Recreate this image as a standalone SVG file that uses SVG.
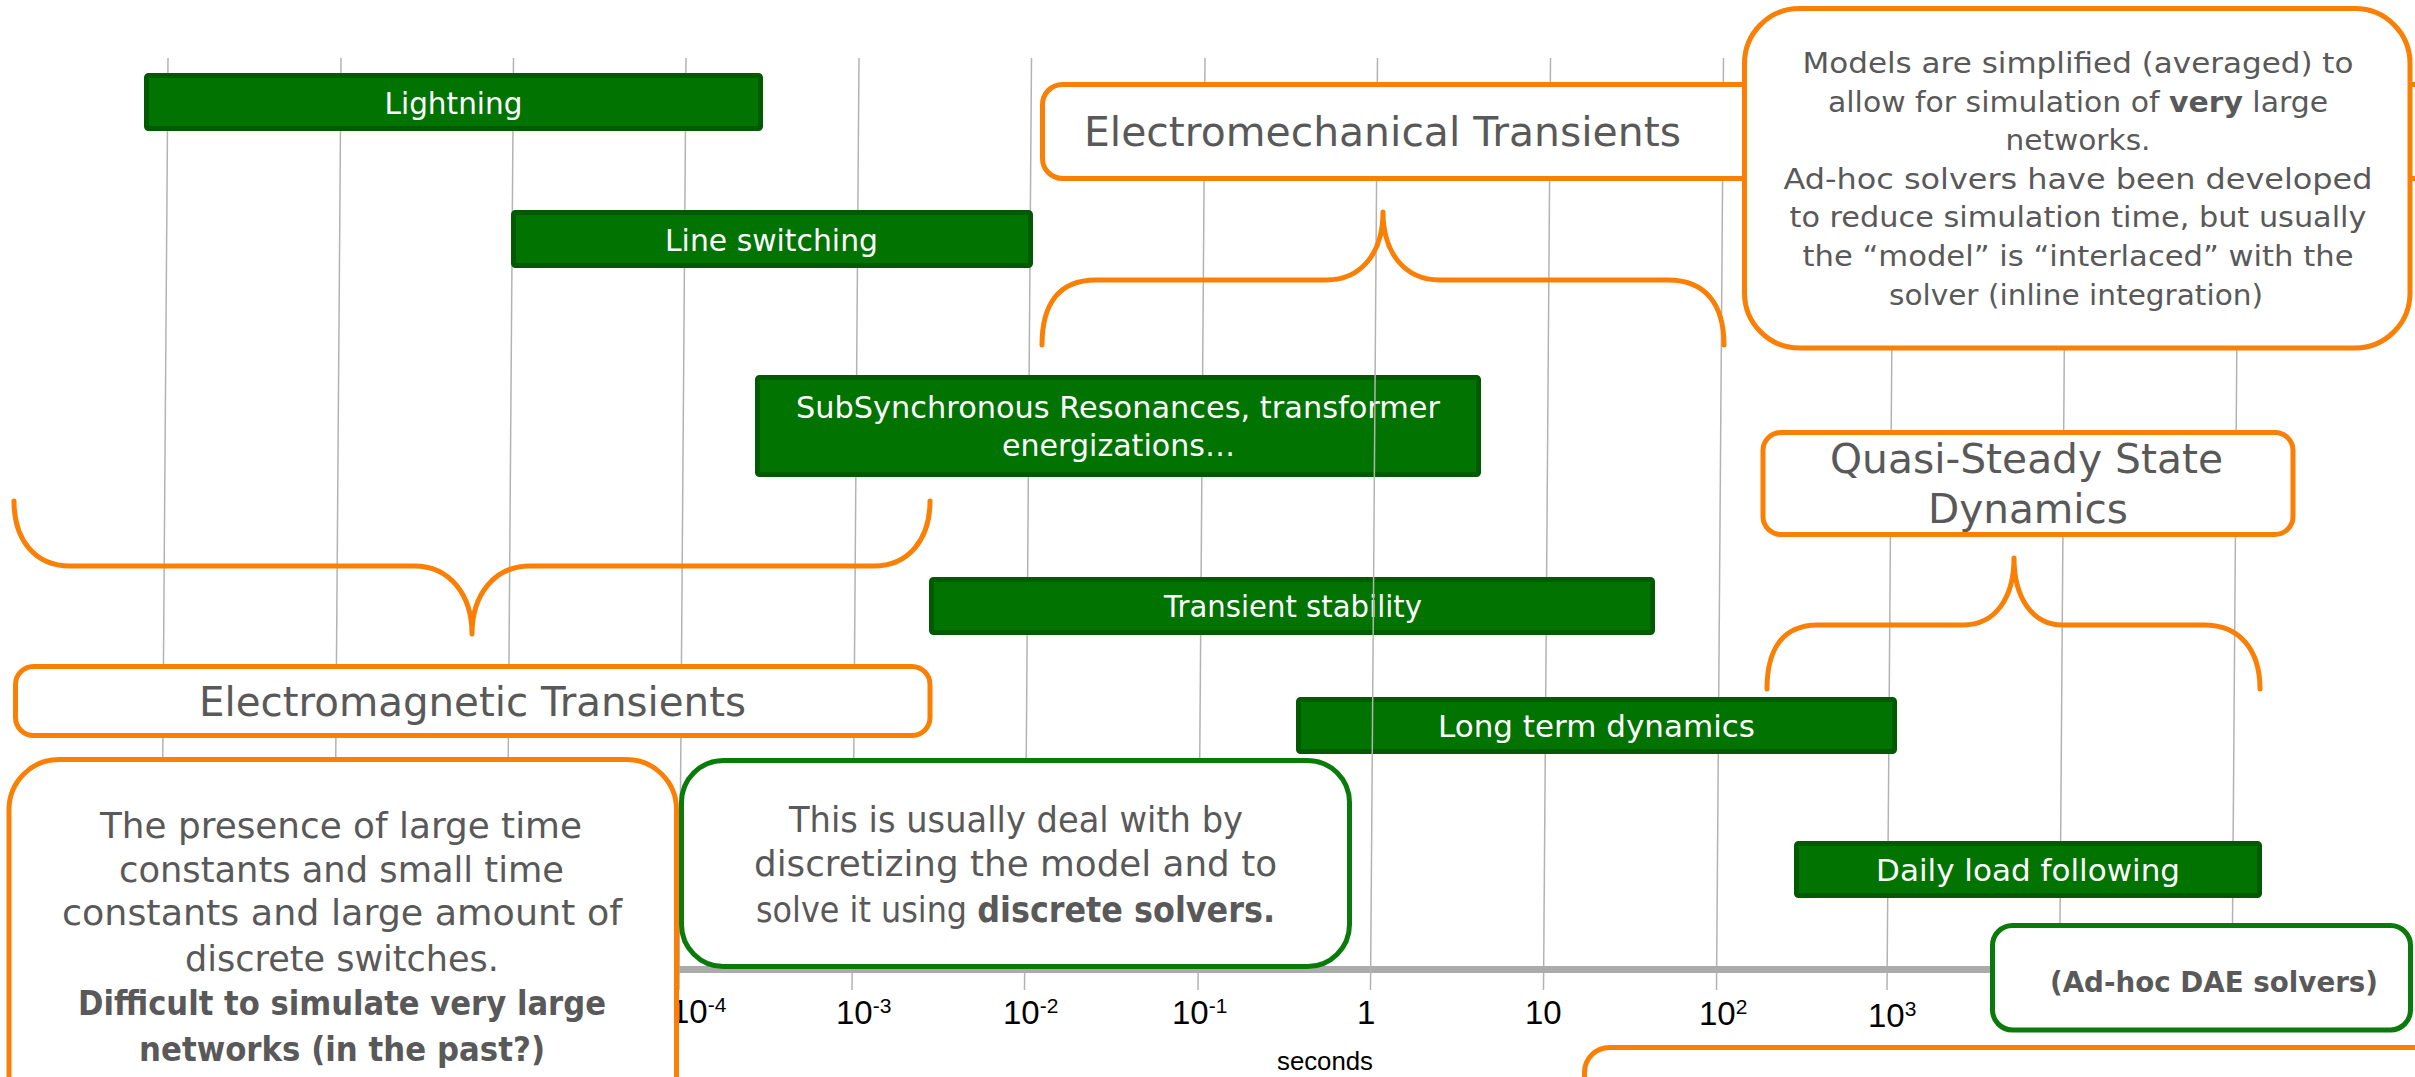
<svg xmlns="http://www.w3.org/2000/svg" width="2415" height="1077" viewBox="0 0 2415 1077">
<style>
.grid{stroke:#b3b3b3;stroke-width:1.5;fill:none}
.bar{fill:#007300;stroke:#005a00;stroke-width:5}
.bt{font-family:"DejaVu Sans",sans-serif;font-size:30px;fill:#ffffff;text-anchor:middle}
.ob{fill:#ffffff;stroke:#fa8005;stroke-width:5}
.gb{fill:#ffffff;stroke:#0a7a0a;stroke-width:5}
.brace{fill:none;stroke:#fa8005;stroke-width:5;stroke-linecap:round;stroke-linejoin:round}
.t{font-family:"DejaVu Sans",sans-serif;fill:#595959;text-anchor:middle}
.big{font-size:40px}
.mid{font-size:35px}
.sm{font-size:28px}
.b{font-weight:bold}
.tick{font-family:"Liberation Sans",Arial,sans-serif;font-size:33px;fill:#000000}
.sup{font-size:21px}
</style>
<g id="grid">
<line class="grid" x1="168" y1="58" x2="161" y2="990"/>
<line class="grid" x1="341" y1="58" x2="334" y2="990"/>
<line class="grid" x1="513.5" y1="58" x2="506.5" y2="990"/>
<line class="grid" x1="686" y1="58" x2="679" y2="990"/>
<line class="grid" x1="859" y1="58" x2="852" y2="990"/>
<line class="grid" x1="1031.5" y1="58" x2="1024.5" y2="990"/>
<line class="grid" x1="1205" y1="58" x2="1198" y2="990"/>
<line class="grid" x1="1550.5" y1="58" x2="1543.5" y2="990"/>
<line class="grid" x1="1723.5" y1="58" x2="1716.5" y2="990"/>
<line class="grid" x1="1894" y1="58" x2="1887" y2="990"/>
<line class="grid" x1="2066.5" y1="58" x2="2059.5" y2="990"/>
<line class="grid" x1="2239" y1="58" x2="2232" y2="990"/>
</g>
<g id="axis">
<line x1="100" y1="969.5" x2="2100" y2="969.5" stroke="#ababab" stroke-width="7"/>
<text class="tick" x="671" y="1023">10<tspan class="sup" dy="-11">-4</tspan></text>
<text class="tick" x="836" y="1024">10<tspan class="sup" dy="-11">-3</tspan></text>
<text class="tick" x="1003" y="1024">10<tspan class="sup" dy="-11">-2</tspan></text>
<text class="tick" x="1172" y="1024">10<tspan class="sup" dy="-11">-1</tspan></text>
<text class="tick" x="1357" y="1024">1</text>
<text class="tick" x="1525" y="1024">10</text>
<text class="tick" x="1699" y="1025">10<tspan class="sup" dy="-11">2</tspan></text>
<text class="tick" x="1868" y="1027">10<tspan class="sup" dy="-11">3</tspan></text>
<text x="1277" y="1070" font-family="Liberation Sans, Arial, sans-serif" font-size="25" fill="#000000" textLength="96" lengthAdjust="spacingAndGlyphs">seconds</text>
</g>
<g id="bar-lightning">
<rect class="bar" x="146.5" y="75.5" width="614" height="53" rx="2"/>
<text class="bt" x="453.5" y="114" textLength="138" lengthAdjust="spacingAndGlyphs">Lightning</text>
</g>
<g id="bar-line-switching">
<rect class="bar" x="513.5" y="212.5" width="517" height="53" rx="2"/>
<text class="bt" x="771.5" y="251" textLength="213" lengthAdjust="spacingAndGlyphs">Line switching</text>
</g>
<g id="bar-subsync">
<rect class="bar" x="757.5" y="377.5" width="721" height="97" rx="2"/>
<text class="bt" x="1118" y="418" textLength="644" lengthAdjust="spacingAndGlyphs">SubSynchronous Resonances, transformer</text>
<text class="bt" x="1118.5" y="456" textLength="233" lengthAdjust="spacingAndGlyphs">energizations…</text>
</g>
<g id="bar-transient-stability">
<rect class="bar" x="931.5" y="579.5" width="721" height="53" rx="2"/>
<text class="bt" x="1293" y="617" textLength="258" lengthAdjust="spacingAndGlyphs">Transient stability</text>
</g>
<g id="bar-long-term">
<rect class="bar" x="1298.5" y="699.5" width="596" height="52" rx="2"/>
<text class="bt" x="1596.5" y="737" textLength="317" lengthAdjust="spacingAndGlyphs">Long term dynamics</text>
</g>
<g id="bar-daily">
<rect class="bar" x="1796.5" y="843.5" width="463" height="52" rx="2"/>
<text class="bt" x="2028" y="881" textLength="304" lengthAdjust="spacingAndGlyphs">Daily load following</text>
</g>
<line id="grid-one-second" class="grid" x1="1377.5" y1="58" x2="1370.5" y2="990"/>
<g id="connectors">
<path class="brace" d="M1042,345 C1042,305 1058,280 1096,280 L1326,280 C1362,280 1383,252 1383,212 C1383,252 1404,280 1440,280 L1668,280 C1706,280 1724,305 1724,345"/>
<path class="brace" d="M14,501 C14,540 35,566 70,566 L414,566 C450,566 472,595 472,634 C472,595 494,566 530,566 L874,566 C908,566 930,540 930,501"/>
<path class="brace" d="M1767,689 C1767,650 1782,625 1818,625 L1963,625 C1996,625 2014,597 2014,558 C2014,597 2032,625 2062,625 L2204,625 C2240,625 2260,650 2260,689"/>
</g>
<g id="box-electromechanical">
<rect class="ob" x="1042.5" y="84.5" width="1681" height="94" rx="20"/>
<text class="t big" x="1382.5" y="146" textLength="597" lengthAdjust="spacingAndGlyphs">Electromechanical Transients</text>
</g>
<g id="box-models">
<rect class="ob" x="1744.5" y="8.5" width="665.5" height="339.5" rx="55"/>
<text class="t sm" x="2078" y="73" textLength="551" lengthAdjust="spacingAndGlyphs">Models are simplified (averaged) to</text>
<text class="t sm" x="2078" y="112" textLength="500" lengthAdjust="spacingAndGlyphs">allow for simulation of <tspan class="b">very</tspan> large</text>
<text class="t sm" x="2078" y="150" textLength="145" lengthAdjust="spacingAndGlyphs">networks.</text>
<text class="t sm" x="2078" y="189" textLength="589" lengthAdjust="spacingAndGlyphs">Ad-hoc solvers have been developed</text>
<text class="t sm" x="2078" y="227" textLength="577" lengthAdjust="spacingAndGlyphs">to reduce simulation time, but usually</text>
<text class="t sm" x="2078" y="266" textLength="551" lengthAdjust="spacingAndGlyphs">the “model” is “interlaced” with the</text>
<text class="t sm" x="2076" y="305" textLength="374" lengthAdjust="spacingAndGlyphs">solver (inline integration)</text>
</g>
<g id="box-quasi-steady">
<rect class="ob" x="1763" y="432.5" width="530" height="102" rx="18"/>
<text class="t" font-size="41" x="2026.5" y="473" textLength="393" lengthAdjust="spacingAndGlyphs">Quasi-Steady State</text>
<text class="t" font-size="41" x="2028" y="523" textLength="200" lengthAdjust="spacingAndGlyphs">Dynamics</text>
</g>
<g id="box-electromagnetic">
<rect class="ob" x="15.5" y="666.5" width="914.5" height="69" rx="18"/>
<text class="t big" x="472.5" y="716" textLength="547" lengthAdjust="spacingAndGlyphs">Electromagnetic Transients</text>
</g>
<g id="box-presence">
<rect class="ob" x="9" y="759.5" width="667.5" height="400" rx="50"/>
<text class="t mid" x="341" y="838" textLength="482" lengthAdjust="spacingAndGlyphs">The presence of large time</text>
<text class="t mid" x="341.5" y="882" textLength="445" lengthAdjust="spacingAndGlyphs">constants and small time</text>
<text class="t mid" x="342" y="925" textLength="560" lengthAdjust="spacingAndGlyphs">constants and large amount of</text>
<text class="t mid" x="342" y="971" textLength="314" lengthAdjust="spacingAndGlyphs">discrete switches.</text>
<text class="t b" font-size="33" x="342" y="1015" textLength="528" lengthAdjust="spacingAndGlyphs">Difficult to simulate very large</text>
<text class="t b" font-size="33" x="342" y="1061" textLength="406" lengthAdjust="spacingAndGlyphs">networks (in the past?)</text>
</g>
<g id="box-discrete">
<rect class="gb" x="681.5" y="760.5" width="668" height="206" rx="42"/>
<text class="t mid" x="1016" y="832" textLength="454" lengthAdjust="spacingAndGlyphs">This is usually deal with by</text>
<text class="t mid" x="1015.5" y="876" textLength="523" lengthAdjust="spacingAndGlyphs">discretizing the model and to</text>
<text class="t mid" x="1015.5" y="922" textLength="519" lengthAdjust="spacingAndGlyphs">solve it using <tspan class="b">discrete solvers.</tspan></text>
</g>
<g id="box-adhoc-dae">
<rect class="gb" x="1992.5" y="925.5" width="418" height="104.5" rx="20"/>
<text class="t b" font-size="29" x="2214" y="992" textLength="328" lengthAdjust="spacingAndGlyphs">(Ad-hoc DAE solvers)</text>
</g>
<g id="box-bottom">
<rect class="ob" x="1584.5" y="1047.5" width="900" height="200" rx="25"/>
</g>
</svg>
